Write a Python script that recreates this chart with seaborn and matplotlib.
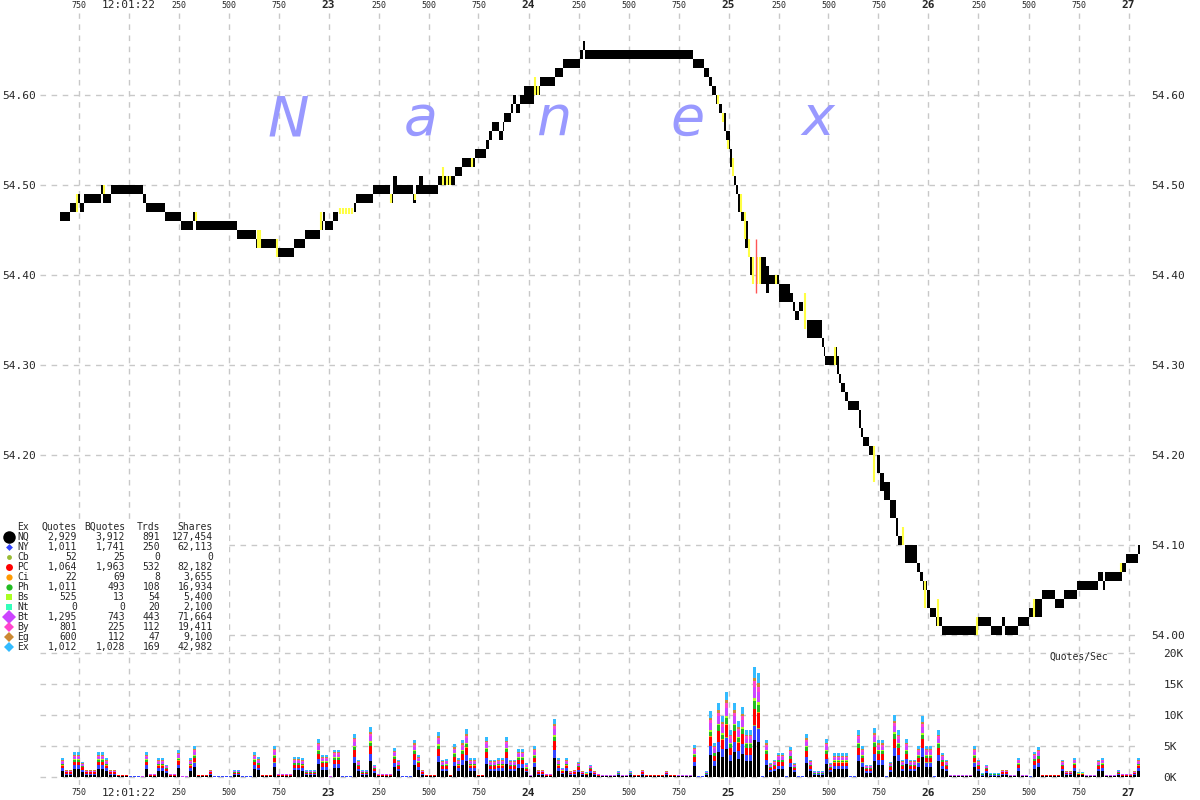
import numpy as np
import pandas as pd
import matplotlib
matplotlib.use('Agg')
import matplotlib.pyplot as plt
import seaborn as sns

# NBBO changes, ms after 12:01:22.000 (bid / ask)
quote_ms = [-342, -292, -252, -242, -222, -137, -127, -87, 73, 88,
            183, 263, 323, 338, 543, 638, 738, 828, 883, 958,
            973, 983, 1023, 1048, 1128, 1138, 1223, 1308, 1323, 1343,
            1423, 1438, 1453, 1473, 1548, 1633, 1668, 1733, 1788, 1803,
            1818, 1853, 1873, 1878, 1913, 1923, 1938, 1958, 1978, 2028,
            2058, 2133, 2173, 2258, 2273, 2283, 2823, 2878, 2903, 2918,
            2938, 2953, 2968, 2978, 2988, 2993, 3008, 3018, 3028, 3038,
            3048, 3063, 3083, 3098, 3108, 3118, 3163, 3188, 3203, 3253,
            3308, 3323, 3333, 3353, 3373, 3393, 3468, 3478, 3483, 3538,
            3543, 3553, 3563, 3583, 3598, 3653, 3663, 3673, 3703, 3723,
            3743, 3758, 3778, 3808, 3838, 3848, 3878, 3883, 3943, 3958,
            3973, 3993, 4008, 4038, 4068, 4248, 4313, 4368, 4383, 4448,
            4503, 4533, 4568, 4633, 4678, 4743, 4848, 4873, 4883, 4968,
            4988, 5048, 5055]
quote_bid = [54.46, 54.47, 54.48, 54.47, 54.48, 54.49, 54.48, 54.49, 54.48, 54.47,
             54.46, 54.45, 54.46, 54.45, 54.44, 54.43, 54.42, 54.43, 54.44, 54.45,
             54.46, 54.45, 54.46, 54.47, 54.47, 54.48, 54.49, 54.48, 54.49, 54.49,
             54.48, 54.49, 54.49, 54.49, 54.50, 54.51, 54.52, 54.53, 54.54, 54.55,
             54.56, 54.55, 54.56, 54.57, 54.58, 54.59, 54.58, 54.59, 54.59, 54.60,
             54.61, 54.62, 54.63, 54.64, 54.65, 54.64, 54.63, 54.62, 54.61, 54.60,
             54.59, 54.58, 54.57, 54.56, 54.55, 54.54, 54.52, 54.51, 54.50, 54.49,
             54.47, 54.46, 54.43, 54.42, 54.40, 54.41, 54.39, 54.38, 54.39, 54.37,
             54.37, 54.36, 54.35, 54.36, 54.36, 54.33, 54.32, 54.31, 54.30, 54.30,
             54.29, 54.28, 54.27, 54.26, 54.25, 54.23, 54.22, 54.21, 54.20, 54.19,
             54.18, 54.16, 54.15, 54.13, 54.11, 54.10, 54.10, 54.08, 54.07, 54.06,
             54.05, 54.03, 54.02, 54.01, 54.00, 54.01, 54.00, 54.01, 54.00, 54.01,
             54.02, 54.02, 54.04, 54.03, 54.04, 54.05, 54.06, 54.05, 54.06, 54.07,
             54.08, 54.09, 54.09]
quote_ask = [54.47, 54.48, 54.49, 54.48, 54.49, 54.50, 54.49, 54.50, 54.49, 54.48,
             54.47, 54.46, 54.47, 54.46, 54.45, 54.44, 54.43, 54.44, 54.45, 54.46,
             54.47, 54.46, 54.47, 54.47, 54.48, 54.49, 54.50, 54.49, 54.51, 54.50,
             54.49, 54.50, 54.51, 54.50, 54.51, 54.52, 54.53, 54.54, 54.55, 54.56,
             54.57, 54.56, 54.57, 54.58, 54.59, 54.60, 54.59, 54.60, 54.61, 54.61,
             54.62, 54.63, 54.64, 54.65, 54.66, 54.65, 54.64, 54.63, 54.62, 54.61,
             54.60, 54.59, 54.58, 54.58, 54.56, 54.56, 54.54, 54.53, 54.51, 54.50,
             54.49, 54.47, 54.46, 54.43, 54.42, 54.41, 54.42, 54.41, 54.40, 54.39,
             54.38, 54.37, 54.36, 54.37, 54.36, 54.35, 54.33, 54.32, 54.31, 54.32,
             54.31, 54.29, 54.28, 54.27, 54.26, 54.25, 54.23, 54.22, 54.21, 54.19,
             54.20, 54.18, 54.17, 54.15, 54.13, 54.11, 54.10, 54.10, 54.08, 54.07,
             54.06, 54.05, 54.03, 54.02, 54.01, 54.02, 54.01, 54.02, 54.01, 54.02,
             54.03, 54.04, 54.05, 54.04, 54.05, 54.06, 54.07, 54.06, 54.07, 54.08,
             54.09, 54.10, 54.10]

# trade prints (ms, low, high)
trade_ms = [-257, -125, 336, 648, 655, 740, 963, 1058, 1073, 1088,
            1103, 1118, 1313, 1430, 1573, 1593, 1608, 1718, 2033, 2048,
            2948, 2973, 2998, 3023, 3063, 3083, 3103, 3123, 3143, 3158,
            3235, 3380, 3535, 3730, 3873, 3983, 4048, 4243, 4528, 4963]
trade_lo = [54.47, 54.49, 54.46, 54.43, 54.43, 54.42, 54.45, 54.468, 54.468, 54.468,
            54.468, 54.468, 54.48, 54.483, 54.50, 54.50, 54.50, 54.52, 54.60, 54.60,
            54.59, 54.57, 54.54, 54.51, 54.47, 54.44, 54.42, 54.39, 54.39, 54.39,
            54.39, 54.34, 54.30, 54.17, 54.10, 54.03, 54.01, 54.00, 54.02, 54.07]
trade_hi = [54.49, 54.50, 54.47, 54.45, 54.45, 54.44, 54.47, 54.474, 54.474, 54.474,
            54.474, 54.474, 54.49, 54.49, 54.52, 54.51, 54.51, 54.53, 54.62, 54.61,
            54.60, 54.58, 54.55, 54.53, 54.49, 54.47, 54.44, 54.42, 54.42, 54.42,
            54.40, 54.38, 54.32, 54.21, 54.12, 54.06, 54.04, 54.02, 54.04, 54.08]
odd_trade_ms = [3138]
odd_trade_lo = [54.38]
odd_trade_hi = [54.44]

# quotes/sec in thousands, 20 ms buckets starting 12:01:21.660
rate_first_ms = -340
rate_bucket_ms = 20
rate_k = [3.0, 1.2, 1.2, 4.0, 4.0, 2.5, 1.2, 1.2, 1.2, 4.0,
          4.0, 3.0, 1.2, 1.2, 0.4, 0.4, 0.4, 0.2, 0.2, 0.2,
          0.1, 4.0, 0.5, 0.5, 3.0, 3.0, 2.0, 0.5, 0.5, 4.3,
          0.1, 0.1, 3.0, 5.0, 0.4, 0.4, 0.4, 1.2, 0.2, 0.2,
          0.2, 0.2, 0.2, 1.1, 1.1, 0.2, 0.2, 0.2, 4.0, 3.2,
          0.4, 0.4, 0.4, 5.0, 0.5, 0.5, 0.5, 0.5, 3.2, 3.2,
          3.0, 1.1, 1.1, 1.1, 6.1, 3.6, 3.6, 0.1, 4.4, 4.4,
          0.2, 0.2, 0.2, 7.0, 2.8, 1.1, 1.1, 8.0, 2.0, 0.5,
          0.5, 0.5, 0.5, 4.7, 2.8, 0.2, 0.2, 0.2, 6.0, 3.6,
          1.2, 0.4, 0.4, 0.4, 7.3, 2.8, 2.9, 0.4, 5.3, 3.0,
          6.0, 7.7, 3.0, 3.0, 0.4, 0.4, 6.5, 2.8, 2.8, 3.0,
          3.0, 6.5, 2.8, 2.8, 4.5, 4.5, 2.2, 0.3, 5.0, 1.2,
          1.2, 0.5, 0.5, 9.4, 3.0, 1.5, 3.0, 1.0, 1.2, 2.5,
          1.0, 0.8, 2.0, 1.0, 0.5, 0.3, 0.3, 0.3, 0.3, 0.9,
          0.3, 0.3, 0.9, 0.4, 0.4, 1.2, 0.4, 0.4, 0.4, 0.4,
          0.4, 1.0, 0.4, 0.4, 0.3, 0.3, 0.3, 0.3, 5.2, 0.2,
          0.2, 0.9, 10.6, 5.5, 12.0, 9.8, 13.7, 7.6, 12.0, 9.0,
          11.3, 7.6, 7.6, 17.8, 16.8, 0.2, 6.0, 2.3, 2.8, 3.9,
          3.9, 0.2, 4.8, 2.3, 0.2, 0.2, 6.9, 2.8, 0.9, 0.9,
          0.9, 6.1, 2.3, 3.8, 3.8, 3.8, 3.8, 0.2, 0.2, 7.6,
          5.0, 2.0, 2.0, 7.9, 6.0, 6.0, 0.2, 2.5, 10.0, 7.6,
          2.8, 6.1, 2.8, 2.8, 5.0, 9.9, 5.0, 5.0, 0.2, 7.6,
          3.9, 2.8, 0.3, 0.3, 0.3, 0.3, 0.3, 0.3, 5.0, 2.8,
          0.6, 2.0, 0.6, 0.6, 0.6, 1.2, 1.2, 0.3, 0.3, 3.1,
          0.3, 0.3, 0.2, 4.1, 4.8, 0.4, 0.4, 0.4, 0.4, 0.4,
          2.8, 1.0, 1.0, 3.1, 0.8, 0.8, 0.3, 0.3, 0.3, 2.8,
          3.1, 0.3, 0.3, 0.3, 1.1, 0.5, 0.5, 0.5, 1.0, 3.0]

# exchange summary table
ex_codes = ['NQ', 'NY', 'Cb', 'PC', 'Ci', 'Ph', 'Bs', 'Nt', 'Bt', 'By', 'Eg', 'Ex']
ex_quotes = [2929, 1011, 52, 1064, 22, 1011, 525, 0, 1295, 801, 600, 1012]
ex_bquotes = [3912, 1741, 25, 1963, 69, 493, 13, 0, 743, 225, 112, 1028]
ex_trds = [891, 250, 0, 532, 8, 108, 54, 20, 443, 112, 47, 169]
ex_shares = [127454, 62113, 0, 82182, 3655, 16934, 5400, 2100, 71664, 19411, 9100, 42982]

ex_colors = ['#000000', '#3344ff', '#99bb33', '#ff0000', '#ff9900', '#22bb22',
             '#aaff22', '#33ffbb', '#cc44ff', '#ff44cc', '#cc8833', '#33bbff']
ex_markers = ['o', 'D', 'o', 'o', 'o', 'o', 's', 's', 'D', 'D', 'D', 'D']
ex_marker_pt = [9, 3.5, 3.5, 5, 4.5, 4.5, 4, 4, 7, 5.5, 5.5, 5]

price_ticks = [54.00, 54.10, 54.20, 54.30, 54.40, 54.50, 54.60]
rate_ticks = [0, 5, 10, 15, 20]
time_ticks = list(range(-250, 5001, 250))
watermark = ['N', 'a', 'n', 'e', 'x']
watermark_px = [288, 421, 554, 688, 818]

W, H = 1200, 800
MONO = 'DejaVu Sans Mono'
GRID = dict(color='#c8c8c8', linestyle=(0, (4, 4)), linewidth=1)


def px_box(x0, y0, x1, y1):
    return [x0 / W, 1 - y1 / H, (x1 - x0) / W, (y1 - y0) / H]


def ms_label(v):
    if v == 0:
        return '12:01:22'
    if v % 1000 == 0:
        return str(22 + v // 1000)
    return str(v % 1000)


sns.set_theme(style='white')
plt.rcParams['font.family'] = [MONO, 'DejaVu Sans']

fig = plt.figure(figsize=(12, 8), dpi=100)
fig.patch.set_facecolor('white')

# price panel
ax = fig.add_axes(px_box(40, 13, 1140, 785))
ax.set_xlim(-442.5, 5057.5)
ax.set_ylim(53.8333, 54.6911)
ax.set_axisbelow(True)
ax.grid(True, **GRID)
for s in ax.spines.values():
    s.set_visible(False)

for letter, xp in zip(watermark, watermark_px):
    ax.text(xp / W, 1 - 135 / H, letter, transform=fig.transFigure, ha='center',
            va='baseline', fontsize=40, style='italic', family='DejaVu Sans',
            color='#9999ff', zorder=0.8)

ax.fill_between(quote_ms, quote_bid, quote_ask, step='post', color='black',
                linewidth=0, zorder=1)
ax.vlines(trade_ms, trade_lo, trade_hi, colors='#ffff44', linewidth=1.5, zorder=2)
ax.vlines(odd_trade_ms, odd_trade_lo, odd_trade_hi, colors='#ff5555', linewidth=1, zorder=2)

ax.set_xticks(time_ticks, [ms_label(v) for v in time_ticks])
# the exchange table sits over the two lowest left-hand labels
ax.set_yticks(price_ticks, ['' if p < 54.15 else f'{p:.2f}' for p in price_ticks])
ax.tick_params(axis='x', length=0, top=True, labeltop=True, bottom=True,
               labelbottom=True, labelsize=6, pad=2)
ax.tick_params(axis='y', length=0, labelsize=8, pad=3)
for v, tick in zip(time_ticks, ax.xaxis.get_major_ticks()):
    for lab in (tick.label1, tick.label2):
        if v == 0:
            lab.set_fontsize(8)
        elif v % 1000 == 0:
            lab.set_fontsize(8)
            lab.set_fontweight('bold')

ax_r = ax.twinx()
ax_r.set_ylim(ax.get_ylim())
ax_r.set_yticks(price_ticks, [f'{p:.2f}' for p in price_ticks])
ax_r.tick_params(axis='y', length=0, labelsize=8, pad=8)
for s in ax_r.spines.values():
    s.set_visible(False)

# quotes/sec panel
shares = np.array(ex_quotes) + np.array(ex_bquotes)
shares = shares / shares.sum()
centers = [rate_first_ms + rate_bucket_ms * (i + 0.5) for i in range(len(rate_k))]
edges = [rate_first_ms + rate_bucket_ms * i for i in range(len(rate_k) + 1)]
rows = []
for c, tot in zip(centers, rate_k):
    for code, sh in zip(ex_codes, shares):
        rows.append({'ms': c, 'ex': code, 'qps': tot * sh})
rate_df = pd.DataFrame(rows)

axv = fig.add_axes(px_box(40, 645, 1140, 785), sharex=ax)
axv.patch.set_alpha(0)
sns.histplot(data=rate_df, x='ms', weights='qps', hue='ex', hue_order=ex_codes[::-1],
             multiple='stack', bins=edges, palette=dict(zip(ex_codes, ex_colors)),
             shrink=0.6, linewidth=0, alpha=1, legend=False, ax=axv)
axv.set_xlim(-442.5, 5057.5)
axv.set_ylim(-1.29, 21.29)
axv.set_xlabel('')
axv.set_ylabel('')
axv.grid(True, axis='y', **GRID)
axv.grid(False, axis='x')
axv.set_axisbelow(True)
axv.set_yticks(rate_ticks, [f'{v}K' for v in rate_ticks])
axv.yaxis.tick_right()
axv.tick_params(axis='y', length=0, labelsize=8, pad=17)
axv.tick_params(axis='x', length=0, bottom=False, labelbottom=False, top=False, labeltop=False)
for s in axv.spines.values():
    s.set_visible(False)
fig.text(1050 / W, 1 - 657 / H, 'Quotes/Sec', ha='left', va='center', fontsize=7, family=MONO)

# exchange table, on a white card that hides the grid beneath it
axl = fig.add_axes(px_box(0, 519, 229, 651))
axl.set_zorder(5)
axl.set_xlim(0, 229)
axl.set_ylim(651, 519)
axl.set_xticks([])
axl.set_yticks([])
for s in axl.spines.values():
    s.set_visible(False)
axl.set_facecolor('white')
hdr_y = 527
axl.text(17, hdr_y, 'Ex', ha='left', va='center', fontsize=7)
for xr, name in zip([77, 125, 160, 213], ['Quotes', 'BQuotes', 'Trds', 'Shares']):
    axl.text(xr, hdr_y, name, ha='right', va='center', fontsize=7)
for i, code in enumerate(ex_codes):
    y = 537 + 10 * i
    axl.plot([9], [y], marker=ex_markers[i], color=ex_colors[i], markersize=ex_marker_pt[i],
             markeredgewidth=0, linestyle='none')
    axl.text(17, y, code, ha='left', va='center', fontsize=7)
    vals = [ex_quotes[i], ex_bquotes[i], ex_trds[i], ex_shares[i]]
    for xr, v in zip([77, 125, 160, 213], vals):
        axl.text(xr, y, f'{v:,}', ha='right', va='center', fontsize=7)

fig.savefig('out.png', dpi=100)
